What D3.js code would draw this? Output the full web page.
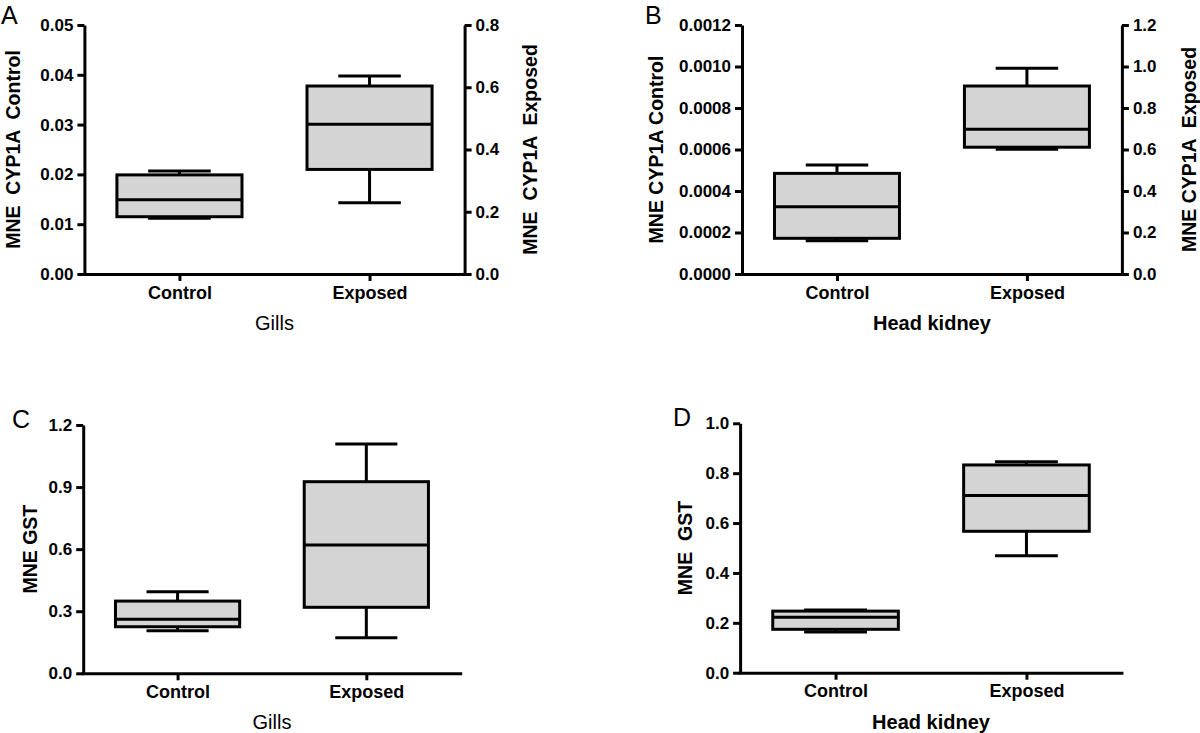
<!doctype html>
<html>
<head>
<meta charset="utf-8">
<script src="https://cdn.jsdelivr.net/npm/d3@7"></script>
<style>
  html, body { margin: 0; padding: 0; background: #fff; }
  svg { display: block; font-family: "Liberation Sans", Arial, sans-serif; }
</style>
</head>
<body>
<script>
// Box stats per group: [min, q1, median, q3, max]
const groups = ["Control", "Exposed"];

const gillsCyp1aControl = [0.0112, 0.0115, 0.0149, 0.0199, 0.0207];
const gillsCyp1aExposed = [0.229, 0.336, 0.481, 0.604, 0.636];
const kidneyCyp1aControl = [0.00016, 0.000172, 0.000324, 0.000485, 0.000525];
const kidneyCyp1aExposed = [0.601, 0.611, 0.697, 0.906, 0.991];
const gillsGstControl = [0.206, 0.225, 0.261, 0.349, 0.394];
const gillsGstExposed = [0.172, 0.319, 0.62, 0.926, 1.108];
const kidneyGstControl = [0.163, 0.174, 0.222, 0.247, 0.251];
const kidneyGstExposed = [0.469, 0.567, 0.711, 0.833, 0.846];

// Tick values
const ticksA = [0, 0.01, 0.02, 0.03, 0.04, 0.05];
const ticksARight = [0, 0.2, 0.4, 0.6, 0.8];
const ticksB = [0, 0.0002, 0.0004, 0.0006, 0.0008, 0.001, 0.0012];
const ticksBRight = [0, 0.2, 0.4, 0.6, 0.8, 1.0, 1.2];
const ticksC = [0, 0.3, 0.6, 0.9, 1.2];
const ticksD = [0, 0.2, 0.4, 0.6, 0.8, 1.0];

const W = 1200, H = 733;
const STROKE = 3;
const BOX_FILL = "#d4d4d4";

const svg = d3.select("body").append("svg")
  .attr("width", W)
  .attr("height", H);

svg.append("rect").attr("width", W).attr("height", H).attr("fill", "#fff");

function drawPanel(p) {
  const g = svg.append("g");

  const x = d3.scalePoint()
    .domain(groups)
    .range([p.left, p.right])
    .padding(0.5);
  const boxW = (p.right - p.left) * 0.329;

  const yL = d3.scaleLinear().domain([0, d3.max(p.ticksLeft)]).range([p.bottom, p.top]);
  const yR = p.ticksRight
    ? d3.scaleLinear().domain([0, d3.max(p.ticksRight)]).range([p.bottom, p.top])
    : yL;

  // Left axis
  const axL = g.append("g")
    .attr("transform", `translate(${p.left},0)`)
    .call(d3.axisLeft(yL).tickValues(p.ticksLeft).tickFormat(d3.format(p.fmtLeft))
      .tickSize(7).tickPadding(4).tickSizeOuter(0));
  styleAxis(axL, 17);

  if (p.ticksRight) {
    const axR = g.append("g")
      .attr("transform", `translate(${p.right},0)`)
      .call(d3.axisRight(yR).tickValues(p.ticksRight).tickFormat(d3.format(".1f"))
        .tickSize(7).tickPadding(4).tickSizeOuter(0));
    styleAxis(axR, 17);
  }

  // X axis
  const axX = g.append("g")
    .attr("transform", `translate(0,${p.bottom})`)
    .call(d3.axisBottom(x).tickSize(7).tickSizeOuter(0).tickPadding(5));
  axX.select(".domain").attr("d", `M${p.left - 1.5},0.5H${p.right + 1.5}`);
  styleAxis(axX, 18);

  // Boxes
  const data = groups.map((k, i) => ({
    key: k,
    v: p.data[i],
    y: i === 0 ? yL : yR
  }));

  const bx = g.append("g").selectAll("g").data(data).join("g");

  // whisker stems
  bx.append("line")
    .attr("x1", d => x(d.key)).attr("x2", d => x(d.key))
    .attr("y1", d => d.y(d.v[4])).attr("y2", d => d.y(d.v[3]))
    .attr("stroke", "#000").attr("stroke-width", STROKE);
  bx.append("line")
    .attr("x1", d => x(d.key)).attr("x2", d => x(d.key))
    .attr("y1", d => d.y(d.v[1])).attr("y2", d => d.y(d.v[0]))
    .attr("stroke", "#000").attr("stroke-width", STROKE);
  // caps
  [0, 4].forEach(j => {
    bx.append("line")
      .attr("x1", d => x(d.key) - boxW / 4).attr("x2", d => x(d.key) + boxW / 4)
      .attr("y1", d => d.y(d.v[j])).attr("y2", d => d.y(d.v[j]))
      .attr("stroke", "#000").attr("stroke-width", STROKE);
  });
  // box
  bx.append("rect")
    .attr("x", d => x(d.key) - boxW / 2)
    .attr("y", d => d.y(d.v[3]))
    .attr("width", boxW)
    .attr("height", d => d.y(d.v[1]) - d.y(d.v[3]))
    .attr("fill", BOX_FILL)
    .attr("stroke", "#000")
    .attr("stroke-width", STROKE);
  // median
  bx.append("line")
    .attr("x1", d => x(d.key) - boxW / 2).attr("x2", d => x(d.key) + boxW / 2)
    .attr("y1", d => d.y(d.v[2])).attr("y2", d => d.y(d.v[2]))
    .attr("stroke", "#000").attr("stroke-width", STROKE);

  // X title
  g.append("text")
    .attr("x", (p.left + p.right) / 2)
    .attr("y", p.bottom + 56)
    .attr("text-anchor", "middle")
    .attr("font-size", 20)
    .attr("font-weight", p.xTitleBold ? 700 : 400)
    .attr("fill", "#000")
    .text(p.xTitle);

  // Y titles
  const midY = (p.top + p.bottom) / 2;
  g.append("text")
    .attr("transform", `translate(${p.yTitleX},${midY}) rotate(-90)`)
    .attr("text-anchor", "middle")
    .attr("dy", "0.35em")
    .attr("font-size", 19.5)
    .attr("font-weight", 700)
    .attr("fill", "#000")
    .style("white-space", "pre")
    .text(p.yTitle);

  if (p.yTitleRight) {
    g.append("text")
      .attr("transform", `translate(${p.yTitleRightX},${midY}) rotate(-90)`)
      .attr("text-anchor", "middle")
      .attr("dy", "0.35em")
      .attr("font-size", 19.5)
      .attr("font-weight", 700)
      .attr("fill", "#000")
      .style("white-space", "pre")
      .text(p.yTitleRight);
  }

  // Panel letter
  g.append("text")
    .attr("x", p.letterX)
    .attr("y", p.letterY)
    .attr("font-size", 25)
    .attr("fill", "#000")
    .text(p.letter);
}

function styleAxis(ax, size) {
  ax.select(".domain").attr("stroke", "#000").attr("stroke-width", STROKE);
  ax.selectAll(".tick line").attr("stroke", "#000").attr("stroke-width", STROKE);
  ax.selectAll(".tick text")
    .attr("fill", "#000")
    .attr("font-size", size)
    .attr("font-weight", 700)
    .attr("font-family", '"Liberation Sans", Arial, sans-serif');
}

drawPanel({
  letter: "A", letterX: 1, letterY: 24,
  left: 84.4, right: 464.6, top: 25, bottom: 274,
  ticksLeft: ticksA, fmtLeft: ".2f", ticksRight: ticksARight,
  data: [gillsCyp1aControl, gillsCyp1aExposed],
  xTitle: "Gills", xTitleBold: false,
  yTitle: "MNE  CYP1A  Control", yTitleX: 13,
  yTitleRight: "MNE  CYP1A  Exposed", yTitleRightX: 530
});

drawPanel({
  letter: "B", letterX: 645, letterY: 24,
  left: 742, right: 1121.9, top: 25, bottom: 274,
  ticksLeft: ticksB, fmtLeft: ".4f", ticksRight: ticksBRight,
  data: [kidneyCyp1aControl, kidneyCyp1aExposed],
  xTitle: "Head kidney", xTitleBold: true,
  yTitle: "MNE CYP1A Control", yTitleX: 656,
  yTitleRight: "MNE CYP1A  Exposed", yTitleRightX: 1189
});

drawPanel({
  letter: "C", letterX: 12, letterY: 428,
  left: 83.2, right: 460.7, top: 425, bottom: 673.3,
  ticksLeft: ticksC, fmtLeft: ".1f", ticksRight: null,
  data: [gillsGstControl, gillsGstExposed],
  xTitle: "Gills", xTitleBold: false,
  yTitle: "MNE GST", yTitleX: 30
});

drawPanel({
  letter: "D", letterX: 673, letterY: 426,
  left: 740.1, right: 1121.9, top: 423.3, bottom: 672.7,
  ticksLeft: ticksD, fmtLeft: ".1f", ticksRight: null,
  data: [kidneyGstControl, kidneyGstExposed],
  xTitle: "Head kidney", xTitleBold: true,
  yTitle: "MNE  GST", yTitleX: 685
});
</script>
</body>
</html>
